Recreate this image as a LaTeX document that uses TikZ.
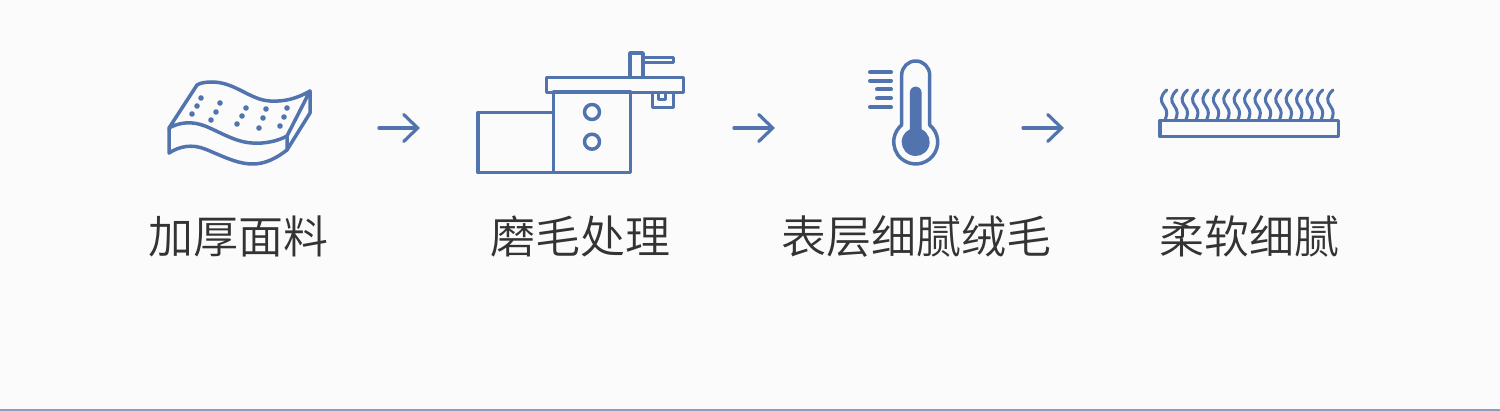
\documentclass[tikz,border=0pt]{standalone}
\usepackage{fontspec}
\usetikzlibrary{arrows.meta}
\newfontfamily\cjk{Noto Sans CJK SC DemiLight}
\definecolor{bgc}{HTML}{FBFBFC}
\definecolor{ic}{HTML}{5274AE}
\definecolor{tx}{HTML}{333333}
\definecolor{rulec}{HTML}{8E9CC2}
\tikzset{
  iconline/.style={draw=ic,line width=3.5pt,line join=round,line cap=round},
  thinline/.style={draw=ic,line width=3pt,line join=round,line cap=round},
  hair/.style={draw=ic,line width=3pt,line cap=round},
  label/.style={text=tx,inner sep=0pt,font=\cjk\fontsize{45}{50}\selectfont,anchor=center},
  flow/.style={draw=ic,line width=3.2pt,line cap=round,-{Straight Barb[length=14pt,width=27pt,line cap=round]}}
}
\begin{document}
\begin{tikzpicture}[x=1pt,y=-1pt]
\useasboundingbox (0,0) rectangle (1500,411);
\fill[bgc] (0,0) rectangle (1500,411);
\fill[rulec] (0,409) rectangle (1500,411);
% sponge
\draw[iconline] (169,128) .. controls (180,122) and (192,121) .. (205,126) .. controls (220,132) and (235,142) .. (252,143) .. controls (265,144) and (278,141) .. (287,136) -- (310,91) .. controls (298,98) and (285,102) .. (270,101) .. controls (250,100) and (235,82) .. (212,82) .. controls (205,82) and (200,83) .. (197,85) -- cycle;
\draw[iconline] (169,128) -- (169,153) .. controls (180,146) and (192,144) .. (205,149) .. controls (220,155) and (235,163) .. (250,164) .. controls (265,165) and (278,157) .. (287,150) -- (287,136);
\draw[iconline] (287,150) -- (310,113) -- (310,91);
\foreach \px/\py in {201/98,197/106,192/114,220/103,216/112,211/120,246/108,242/116,237/124,266/109,263/118,259/128,287/108,284/117,280/126}
  \fill[ic] (\px,\py) circle[radius=2.8];
% machine
\draw[iconline] (478,112.5) rectangle (553.5,172.5);
\draw[iconline] (553.5,92) rectangle (630.5,172.5);
\draw[iconline] (546.7,77.3) rectangle (683.5,92.3);
\draw[iconline] (630,53) rectangle (643,77.3);
\draw[thinline] (643,57.5) -- (673,57.5) -- (673,62.5) -- (643,62.5);
\draw[thinline] (652,92.3) -- (652,107.5) -- (673.5,107.5) -- (673.5,92.3);
\draw[thinline] (658.5,93) -- (658.5,99.5) -- (665,99.5) -- (665,93);
\draw[iconline] (592,112) circle[radius=7.5];
\draw[iconline] (592,141.7) circle[radius=7.5];
% thermometer
\draw[iconline] (901.7,125) -- (901.7,75) arc[start angle=180,end angle=360,radius=14] -- (929.7,125) arc[start angle=-50.5,end angle=230.5,radius=22] -- cycle;
\fill[ic] (909.85,129.3) -- (909.85,92.5) arc[start angle=180,end angle=360,radius=5.85] -- (921.55,129.3) arc[start angle=-65.2,end angle=245.2,radius=14] -- cycle;
\foreach \xa/\py in {870/72.3,870/80.7,877/89.3,877/98.3,870/107.3}
  \draw[draw=ic,line width=4pt,line cap=round] (\xa,\py) -- (891,\py);
% fuzz
\draw[iconline] (1160,120.5) rectangle (1338.5,136.5);
\foreach \i in {0,...,16}
  \draw[hair,xshift=10.4*\i] (1166.7,90) .. controls (1160,96) and (1160,101) .. (1164,106) .. controls (1168,111) and (1167,115) .. (1165,120);
% arrows
\coordinate (a1s) at (379,128); \coordinate (a1e) at (420,128);
\coordinate (a2s) at (734,128); \coordinate (a2e) at (775,128);
\coordinate (a3s) at (1023,128); \coordinate (a3e) at (1064,128);
\draw[flow] (a1s) -- (a1e);
\draw[flow] (a2s) -- (a2e);
\draw[flow] (a3s) -- (a3e);
% labels
\node[label] (l1) at (238.5,236.5) {加厚面料};
\node[label] (l2) at (580.5,236.5) {磨毛处理};
\node[label] (l3) at (916,236.5) {表层细腻绒毛};
\node[label] (l4) at (1249,236.5) {柔软细腻};
\end{tikzpicture}
\end{document}
